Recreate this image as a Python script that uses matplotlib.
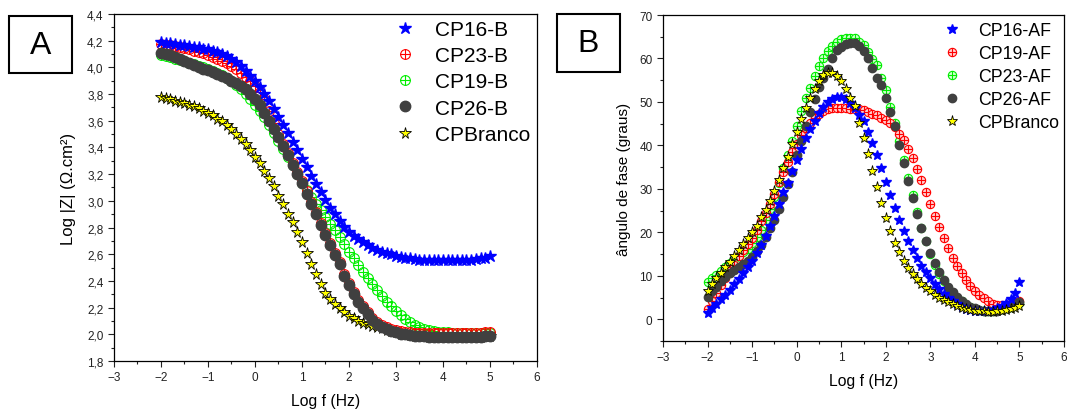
import numpy as np
import matplotlib.pyplot as plt
from matplotlib.path import Path
from matplotlib.patches import Rectangle
from matplotlib.ticker import MultipleLocator, FuncFormatter

plt.rcParams['font.family'] = ['Liberation Sans', 'DejaVu Sans']

# frequency grid, 10 points per decade
log_f = np.linspace(-2, 5, 71)

# --- panel A: Log |Z| ---
cp16_b = [4.19, 4.185, 4.18, 4.175, 4.17, 4.165, 4.16, 4.155, 4.15, 4.14,
          4.135, 4.125, 4.115, 4.10, 4.085, 4.065, 4.04, 4.01, 3.975, 3.935,
          3.895, 3.85, 3.80, 3.745, 3.685, 3.625, 3.565, 3.505, 3.44, 3.38,
          3.315, 3.25, 3.185, 3.125, 3.065, 3.005, 2.95, 2.90, 2.85, 2.805,
          2.77, 2.74, 2.715, 2.69, 2.67, 2.65, 2.635, 2.62, 2.61, 2.60,
          2.59, 2.58, 2.575, 2.57, 2.565, 2.56, 2.56, 2.555, 2.555, 2.555,
          2.555, 2.555, 2.555, 2.555, 2.56, 2.56, 2.56, 2.565, 2.57, 2.575,
          2.585]
cp23_b = [4.175, 4.17, 4.165, 4.16, 4.15, 4.145, 4.135, 4.125, 4.115, 4.105,
          4.095, 4.08, 4.065, 4.05, 4.03, 4.01, 3.985, 3.96, 3.93, 3.895,
          3.86, 3.815, 3.76, 3.67, 3.585, 3.50, 3.425, 3.355, 3.285, 3.215,
          3.145, 3.07, 2.995, 2.915, 2.835, 2.76, 2.685, 2.61, 2.54, 2.455,
          2.385, 2.32, 2.26, 2.21, 2.165, 2.125, 2.095, 2.07, 2.055, 2.04,
          2.03, 2.025, 2.02, 2.015, 2.012, 2.01, 2.01, 2.008, 2.008, 2.008,
          2.008, 2.008, 2.008, 2.008, 2.008, 2.008, 2.01, 2.01, 2.012, 2.015,
          2.02]
cp19_b = [4.09, 4.085, 4.075, 4.065, 4.055, 4.045, 4.035, 4.025, 4.01, 4.00,
          3.99, 3.975, 3.96, 3.94, 3.92, 3.895, 3.87, 3.84, 3.80, 3.76,
          3.72, 3.675, 3.625, 3.57, 3.51, 3.45, 3.39, 3.33, 3.265, 3.20,
          3.135, 3.08, 3.03, 2.98, 2.93, 2.88, 2.83, 2.78, 2.73, 2.68,
          2.62, 2.57, 2.52, 2.47, 2.42, 2.375, 2.33, 2.285, 2.245, 2.21,
          2.175, 2.145, 2.115, 2.09, 2.07, 2.055, 2.04, 2.03, 2.025, 2.02,
          2.016, 2.014, 2.012, 2.01, 2.01, 2.01, 2.01, 2.01, 2.01, 2.01,
          2.012]
cp26_b = [4.11, 4.10, 4.09, 4.075, 4.06, 4.045, 4.03, 4.015, 4.00, 3.99,
          3.98, 3.965, 3.95, 3.935, 3.92, 3.90, 3.88, 3.86, 3.835, 3.80,
          3.76, 3.715, 3.66, 3.60, 3.54, 3.475, 3.41, 3.34, 3.27, 3.20,
          3.13, 3.055, 2.98, 2.90, 2.82, 2.745, 2.67, 2.595, 2.525, 2.44,
          2.37, 2.305, 2.245, 2.195, 2.15, 2.11, 2.08, 2.055, 2.04, 2.025,
          2.015, 2.005, 2.0, 1.995, 1.99, 1.988, 1.985, 1.983, 1.982, 1.98,
          1.98, 1.98, 1.98, 1.98, 1.98, 1.98, 1.98, 1.98, 1.982, 1.985,
          1.988]
cpbranco_b = [3.78, 3.77, 3.76, 3.75, 3.74, 3.73, 3.72, 3.71, 3.695, 3.675,
              3.66, 3.64, 3.615, 3.595, 3.565, 3.535, 3.50, 3.465, 3.425, 3.38,
              3.33, 3.28, 3.225, 3.17, 3.11, 3.04, 2.975, 2.905, 2.84, 2.765,
              2.69, 2.61, 2.53, 2.45, 2.375, 2.31, 2.265, 2.225, 2.195, 2.165,
              2.14, 2.12, 2.10, 2.085, 2.075, 2.065, 2.055, 2.045, 2.035, 2.025,
              2.015, 2.005, 2.0, 1.995, 1.99, 1.988, 1.985, 1.983, 1.982, 1.98,
              1.98, 1.98, 1.98, 1.98, 1.98, 1.98, 1.98, 1.98, 1.982, 1.985,
              1.988]

# --- panel B: phase angle ---
cp16_af = [1.5, 2.5, 3.5, 4.6, 5.6, 6.8, 8.1, 9.2, 10.6, 12.0,
           13.5, 15.2, 17.1, 19.1, 21.4, 23.7, 26.6, 29.2, 31.4, 34.1,
           36.7, 39.2, 41.7, 43.8, 45.6, 47.5, 48.9, 50.0, 50.7, 51.2,
           51.2, 50.7, 49.8, 48.5, 47.1, 45.6, 43.0, 40.6, 37.7, 34.7,
           31.6, 28.5, 25.7, 22.9, 20.4, 18.1, 16.0, 14.1, 12.3, 10.8,
           9.5, 8.1, 6.9, 5.8, 5.0, 4.2, 3.5, 2.9, 2.4, 2.1,
           1.9, 1.8, 1.8, 1.9, 2.2, 2.6, 3.1, 3.8, 4.6, 6.1,
           8.5]
cp19_af = [2.4, 4.2, 6.1, 7.9, 9.6, 11.2, 12.5, 14.5, 16.0, 17.4,
           18.8, 20.6, 22.5, 24.4, 26.6, 28.9, 31.5, 33.8, 36.1, 38.4,
           40.4, 42.3, 43.9, 45.2, 46.3, 47.3, 48.0, 48.4, 48.6, 48.7,
           48.7, 48.5, 48.4, 48.3, 48.3, 48.1, 47.7, 47.3, 46.9, 46.3,
           45.8, 45.2, 44.3, 42.7, 41.2, 39.2, 37.0, 34.6, 32.1, 29.3,
           26.5, 23.8, 21.2, 18.7, 16.4, 14.2, 12.3, 10.6, 9.1, 7.7,
           6.5, 5.6, 4.8, 4.1, 3.5, 3.3, 3.2, 3.2, 3.4, 3.7,
           4.3]
cp23_af = [8.5, 9.5, 10.2, 11.0, 12.0, 12.9, 13.8, 14.6, 15.4, 16.1,
           17.5, 18.9, 20.6, 22.8, 25.4, 28.1, 31.4, 34.8, 37.7, 41.0,
           44.4, 47.9, 51.0, 53.3, 56.0, 58.3, 60.0, 61.7, 62.9, 63.9,
           64.4, 64.6, 64.8, 64.6, 63.8, 63.0, 61.6, 59.8, 58.4, 55.6,
           52.7, 48.9, 45.2, 41.0, 36.7, 32.5, 28.5, 24.6, 21.0, 17.9,
           15.0, 12.5, 10.5, 8.7, 7.1, 5.8, 4.8, 4.1, 3.3, 2.8,
           2.4, 2.2, 2.0, 2.0, 2.0, 2.2, 2.4, 2.7, 2.9, 3.3,
           3.8]
cp26_af = [5.2, 6.4, 7.5, 8.7, 9.8, 10.6, 11.4, 12.1, 12.8, 13.5,
           14.3, 15.8, 17.1, 18.9, 21.0, 22.9, 25.4, 28.1, 31.2, 33.9,
           37.7, 41.1, 44.4, 47.7, 50.6, 53.5, 55.6, 57.6, 60.0, 62.0,
           62.7, 63.4, 63.6, 63.5, 62.9, 61.7, 60.2, 57.9, 55.6, 54.0,
           51.0, 47.8, 44.4, 40.2, 36.0, 31.7, 27.9, 24.3, 21.0, 17.9,
           15.2, 12.9, 10.8, 9.1, 7.5, 6.3, 5.2, 4.3, 3.5, 2.9,
           2.5, 2.2, 2.0, 1.9, 1.9, 2.0, 2.3, 2.7, 3.1, 3.5,
           4.0]
cpbranco_af = [6.4, 8.1, 9.5, 10.6, 12.0, 13.1, 14.6, 16.0, 17.3, 18.7,
               20.0, 21.5, 23.5, 25.2, 27.1, 29.6, 32.1, 34.8, 37.4, 40.4,
               43.1, 46.0, 48.7, 51.0, 52.9, 54.8, 56.1, 56.7, 56.6, 56.0,
               54.8, 53.0, 51.0, 49.0, 45.2, 41.7, 38.0, 34.1, 30.4, 26.7,
               23.3, 20.4, 17.5, 15.4, 13.5, 11.8, 10.4, 9.2, 8.1, 7.1,
               6.4, 5.6, 5.0, 4.5, 3.9, 3.5, 3.1, 2.7, 2.4, 2.2,
               2.0, 1.8, 1.8, 1.7, 1.7, 1.8, 1.9, 2.2, 2.4, 2.7,
               3.1]

# circle with a cross inside (Origin style)
cross = Path([[-1, 0], [1, 0], [0, -1], [0, 1]],
             [Path.MOVETO, Path.LINETO, Path.MOVETO, Path.LINETO])
circ_plus = Path.make_compound_path(Path.unit_circle(), cross)

fig = plt.figure(figsize=(10.67, 4.14), dpi=100)
axA = fig.add_axes([0.1068, 0.1256, 0.3964, 0.8382])
axB = fig.add_axes([0.6214, 0.1739, 0.3758, 0.7874])

# panel A series (label, data, style, zorder)
seriesA = [
    ('CP16-B', cp16_b, dict(marker='*', ms=9, color='#0000ff', mec='#0000ff'), 4),
    ('CP23-B', cp23_b, dict(marker=circ_plus, ms=7, color='#ff0000', mfc='none', mew=0.8), 3),
    ('CP19-B', cp19_b, dict(marker=circ_plus, ms=7, color='#00ee00', mfc='none', mew=0.8), 2),
    ('CP26-B', cp26_b, dict(marker='o', ms=7.5, color='#404040', mec='#404040'), 5),
    ('CPBranco', cpbranco_b, dict(marker='*', ms=8.5, mfc='#ffff00', mec='black', mew=0.6), 1),
]
for label, y, st, z in seriesA:
    axA.plot(log_f, y, ls='none', label=label, zorder=z, **st)

seriesB = [
    ('CP16-AF', cp16_af, dict(marker='*', ms=7.5, color='#0000ff', mec='#0000ff'), 4),
    ('CP19-AF', cp19_af, dict(marker=circ_plus, ms=6, color='#ff0000', mfc='#ffd0d0', mew=0.8), 2),
    ('CP23-AF', cp23_af, dict(marker=circ_plus, ms=6, color='#00ee00', mfc='#d0ffd0', mew=0.8), 1),
    ('CP26-AF', cp26_af, dict(marker='o', ms=6, color='#404040', mec='#404040'), 3),
    ('CPBranco', cpbranco_af, dict(marker='*', ms=8, mfc='#ffff00', mec='black', mew=0.6), 5),
]
for label, y, st, z in seriesB:
    axB.plot(log_f, y, ls='none', label=label, zorder=z, **st)

comma = FuncFormatter(lambda v, p: f'{v:.1f}'.replace('.', ','))

for ax in (axA, axB):
    ax.set_xlim(-3, 6)
    ax.xaxis.set_major_locator(MultipleLocator(1))
    ax.xaxis.set_minor_locator(MultipleLocator(0.5))
    ax.tick_params(which='both', direction='out', top=False, right=False,
                   labelsize=8.5, colors='#222222', width=0.8)
    ax.tick_params(which='major', length=4)
    ax.tick_params(which='minor', length=2.5)
    for s in ax.spines.values():
        s.set_linewidth(0.9)
    ax.set_xlabel('Log f (Hz)', fontsize=11.3, labelpad=7)

axA.set_ylim(1.8, 4.4)
axA.yaxis.set_major_locator(MultipleLocator(0.2))
axA.yaxis.set_minor_locator(MultipleLocator(0.1))
axA.yaxis.set_major_formatter(comma)
axA.set_ylabel('Log |Z| (Ω.cm²)', fontsize=12, labelpad=8)

axB.set_ylim(-5, 70)
axB.yaxis.set_major_locator(MultipleLocator(10))
axB.yaxis.set_minor_locator(MultipleLocator(5))
axB.set_ylabel('ângulo de fase (graus)', fontsize=11, labelpad=6)

axA.legend(loc='upper left', bbox_to_anchor=(0.658, 0.983), frameon=False,
           fontsize=15, handlelength=1.2, handletextpad=0.84, labelspacing=0.35,
           borderpad=0, borderaxespad=0)
axB.legend(loc='upper left', bbox_to_anchor=(0.694, 0.978), frameon=False,
           fontsize=12.8, handlelength=1.2, handletextpad=0.86, labelspacing=0.34,
           borderpad=0, borderaxespad=0)

# panel letters in boxes
for x0, y0, w, h, letter in [(9, 17, 63, 57, 'A'), (557, 15, 63, 58, 'B')]:
    fig.add_artist(Rectangle((x0 / 1067, 1 - (y0 + h) / 414), w / 1067, h / 414,
                             transform=fig.transFigure, fill=False, lw=1.5, ec='black'))
    fig.text((x0 + w / 2) / 1067, 1 - (y0 + h / 2) / 414, letter,
             ha='center', va='center', fontsize=23)

fig.savefig('out.png', dpi=100)
